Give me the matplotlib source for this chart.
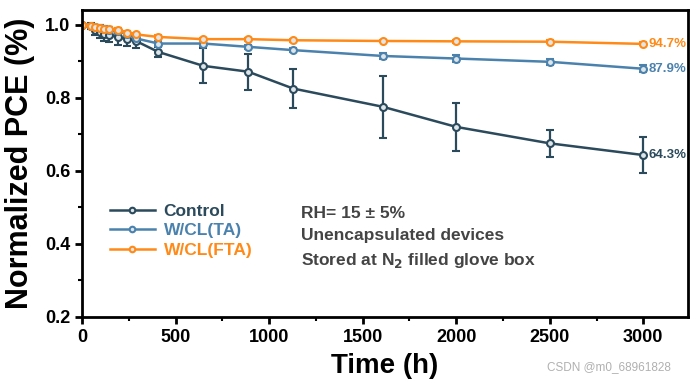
import matplotlib.pyplot as plt
from matplotlib.ticker import MultipleLocator

plt.rcParams['font.family'] = ['Liberation Sans', 'DejaVu Sans']
plt.rcParams['font.weight'] = 'bold'

time_h = [0, 48, 72, 96, 120, 144, 192, 240, 288, 408, 648, 888, 1128, 1608, 2000, 2500, 3000]

control = [1.0, 0.995, 0.985, 0.98, 0.975, 0.972, 0.965, 0.96, 0.955, 0.925, 0.887, 0.871, 0.825,
           0.775, 0.72, 0.675, 0.643]
control_err = [0.0, 0.008, 0.015, 0.018, 0.02, 0.02, 0.02, 0.018, 0.018, 0.014, 0.048, 0.049, 0.053,
               0.085, 0.065, 0.037, 0.05]

ta = [1.0, 0.997, 0.992, 0.99, 0.988, 0.986, 0.982, 0.975, 0.962, 0.948, 0.948, 0.939, 0.930,
      0.914, 0.907, 0.898, 0.879]
ta_err = [0.0, 0.004, 0.006, 0.008, 0.008, 0.008, 0.008, 0.008, 0.008, 0.006, 0.006, 0.006, 0.006,
          0.008, 0.009, 0.009, 0.010]

fta = [1.0, 0.997, 0.993, 0.99, 0.988, 0.987, 0.985, 0.977, 0.973, 0.966, 0.960, 0.960, 0.957,
       0.955, 0.954, 0.953, 0.947]
fta_err = [0.0, 0.004, 0.005, 0.006, 0.006, 0.006, 0.006, 0.005, 0.005, 0.004, 0.004, 0.004, 0.004,
           0.004, 0.004, 0.004, 0.004]

names = ["Control", "W/CL(TA)", "W/CL(FTA)"]
end_labels = ["64.3%", "87.9%", "94.7%"]

c_control = "#2b4a5c"
c_ta = "#4a82ad"
c_fta = "#ff8a17"
colors = [c_control, c_ta, c_fta]

fig = plt.figure(figsize=(6.92, 3.81), dpi=100)
ax = fig.add_axes([0.1185, 0.168, 0.876, 0.806])

series = [(control, control_err), (ta, ta_err), (fta, fta_err)]
lines = []
for (vals, errs), col in zip(series, colors):
    h = ax.errorbar(time_h, vals, yerr=errs, color=col, lw=1.8, marker="o", ms=5,
                    mfc="#dfe6ea", mec=col, mew=1.5, capsize=3, elinewidth=1.6,
                    capthick=1.6)
    lines.append(h[0])

for (vals, errs), col, txt in zip(series, colors, end_labels):
    ax.annotate(txt, (time_h[-1], vals[-1]), xytext=(4, 0), textcoords="offset points",
                color=col, fontsize=9.5, fontweight="bold", va="center", ha="left")

ax.set_xlim(0, 3240)
ax.set_ylim(0.2, 1.04)
ax.xaxis.set_major_locator(MultipleLocator(500))
ax.xaxis.set_minor_locator(MultipleLocator(250))
ax.yaxis.set_major_locator(MultipleLocator(0.2))
ax.yaxis.set_minor_locator(MultipleLocator(0.1))
ax.tick_params(which="major", direction="out", length=5, width=2, labelsize=13)
ax.tick_params(which="minor", direction="out", length=3, width=1.5)
for lab in ax.get_xticklabels() + ax.get_yticklabels():
    lab.set_fontweight("bold")
for sp in ax.spines.values():
    sp.set_linewidth(2)

ax.set_xlabel("Time (h)", fontsize=20, fontweight="bold", labelpad=5)
ax.set_ylabel("Normalized PCE (%)", fontsize=22, fontweight="bold", labelpad=7)

leg = ax.legend(lines, names, loc="upper left",
                bbox_to_anchor=(0.02, 0.42), frameon=False, fontsize=12.5,
                handlelength=2.6, handletextpad=0.5, labelspacing=0.25)
for t, col in zip(leg.get_texts(), colors):
    t.set_color(col)
    t.set_fontweight("bold")
for ln in leg.get_lines():
    ln.set_markersize(4)

ax.text(0.362, 0.36, "RH= 15 \u00b1 5%\nUnencapsulated devices\nStored at N$_\\mathbf{2}$ filled glove box",
        transform=ax.transAxes, fontsize=12.5, fontweight="bold", color="#444444",
        va="top", ha="left", linespacing=1.55)

fig.text(0.97, 0.037, "CSDN @m0_68961828", fontsize=8.5, color="#b0b0b0",
         ha="right", va="center", fontweight="normal")

fig.savefig("out.png", dpi=100)
